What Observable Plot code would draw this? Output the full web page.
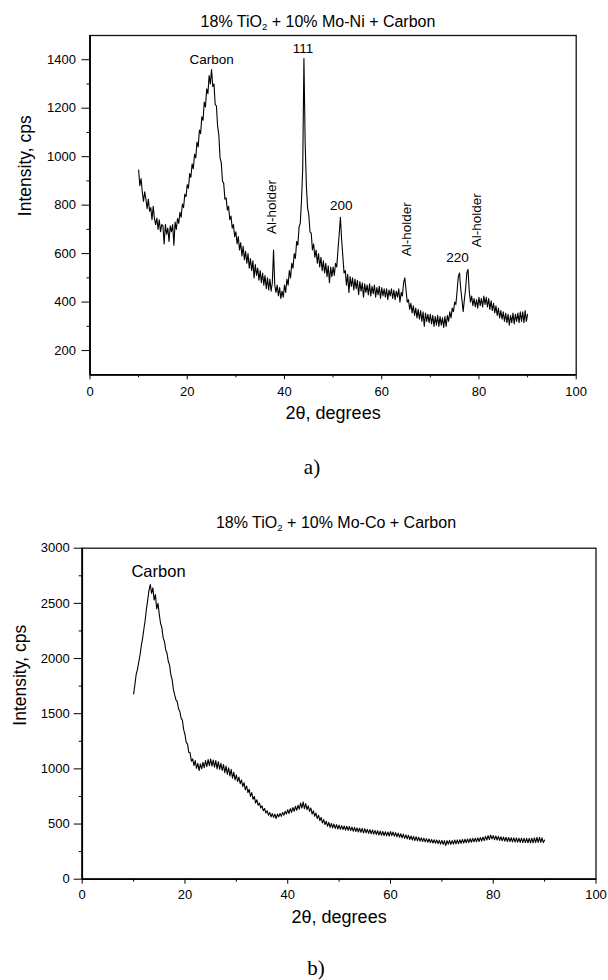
<!DOCTYPE html>
<html><head><meta charset="utf-8">
<script src="https://cdn.jsdelivr.net/npm/d3@7"></script>
<script src="https://cdn.jsdelivr.net/npm/@observablehq/plot@0.6"></script>
<style>
body{margin:0;background:#fff;}
#wrap{position:relative;width:608px;height:980px;overflow:hidden;font-family:"Liberation Sans",Arial,sans-serif;color:#000;background:#fff;}
.panel{position:absolute;left:0;}
.lbl{position:absolute;transform:translate(-50%,-50%);white-space:nowrap;line-height:1;}
.title{font-size:16px;}
.title sub{font-size:0.6em;vertical-align:-0.3em;line-height:0;}
.cap{font-family:"Liberation Serif","Times New Roman",serif;font-size:21px;}
</style></head>
<body><div id="wrap">
<div class="panel" id="pa" style="top:0px"></div>
<div class="panel" id="pb" style="top:500px"></div>
<div class="lbl title" style="left:318px;top:21.7px">18% TiO<sub>2</sub> + 10% Mo-Ni + Carbon</div>
<div class="lbl cap" style="left:312px;top:467px">a)</div>
<div class="lbl title" style="left:336px;top:523.3px">18% TiO<sub>2</sub> + 10% Mo-Co + Carbon</div>
<div class="lbl cap" style="left:316px;top:968px">b)</div>
</div>
<script>
// ---- data: panel a (Mo-Ni), [2θ degrees, intensity cps]
const scanA = [
[10.0,945],[10.25,880],[10.5,910],[10.75,855],[11.0,815],[11.25,855],[11.5,825],[11.75,785],[12.0,825],[12.25,775],
[12.5,790],[12.75,740],[13.0,795],[13.25,745],[13.5,720],[13.75,747],[14.0,700],[14.25,740],[14.5,690],[14.75,720],
[15.0,715],[15.25,640],[15.5,720],[15.75,680],[16.0,705],[16.25,650],[16.5,715],[16.75,690],[17.0,720],[17.25,635],
[17.5,730],[17.75,700],[18.0,745],[18.25,725],[18.5,770],[18.75,750],[19.0,805],[19.25,790],[19.5,845],[19.75,835],
[20.0,885],[20.25,870],[20.5,930],[20.75,915],[21.0,970],[21.25,950],[21.5,1010],[21.75,995],[22.0,1060],[22.25,1040],
[22.5,1110],[22.75,1095],[23.0,1165],[23.25,1150],[23.5,1225],[23.75,1205],[24.0,1280],[24.25,1260],[24.5,1335],[24.75,1300],
[25.0,1360],[25.25,1290],[25.5,1300],[25.75,1215],[26.0,1210],[26.25,1125],[26.5,1090],[26.75,995],[27.0,975],[27.25,900],
[27.5,890],[27.75,825],[28.0,830],[28.25,780],[28.5,795],[28.75,740],[29.0,755],[29.25,705],[29.5,720],[29.75,670],
[30.0,690],[30.25,640],[30.5,670],[30.75,615],[31.0,645],[31.25,590],[31.5,630],[31.75,575],[32.0,610],[32.25,560],
[32.5,600],[32.75,540],[33.0,580],[33.25,530],[33.5,570],[33.75,500],[34.0,555],[34.25,510],[34.5,540],[34.75,490],
[35.0,530],[35.25,480],[35.5,520],[35.75,470],[36.0,510],[36.25,455],[36.5,500],[36.75,450],[37.0,495],[37.25,445],
[37.5,480],[37.75,615],[38.0,470],[38.25,440],[38.5,470],[38.75,425],[39.0,460],[39.25,415],[39.5,445],[39.75,420],
[40.0,470],[40.25,440],[40.5,495],[40.75,470],[41.0,530],[41.25,500],[41.5,560],[41.75,540],[42.0,600],[42.25,580],
[42.5,650],[42.75,635],[43.0,710],[43.25,725],[43.5,820],[43.75,950],[44.0,1405],[44.25,1060],[44.5,880],[44.75,790],
[45.0,760],[45.25,690],[45.5,685],[45.75,615],[46.0,640],[46.25,585],[46.5,615],[46.75,560],[47.0,600],[47.25,545],
[47.5,585],[47.75,530],[48.0,570],[48.25,520],[48.5,560],[48.75,505],[49.0,550],[49.25,480],[49.5,545],[49.75,505],
[50.0,545],[50.25,510],[50.5,560],[50.75,545],[51.0,615],[51.25,680],[51.5,750],[51.75,660],[52.0,590],[52.25,520],
[52.5,530],[52.75,470],[53.0,515],[53.25,440],[53.5,505],[53.75,465],[54.0,500],[54.25,450],[54.5,495],[54.75,455],
[55.0,490],[55.25,430],[55.5,485],[55.75,445],[56.0,480],[56.25,420],[56.5,475],[56.75,440],[57.0,470],[57.25,430],
[57.5,475],[57.75,425],[58.0,465],[58.25,435],[58.5,470],[58.75,420],[59.0,460],[59.25,430],[59.5,465],[59.75,415],
[60.0,460],[60.25,425],[60.5,455],[60.75,420],[61.0,455],[61.25,410],[61.5,450],[61.75,425],[62.0,455],[62.25,415],
[62.5,450],[62.75,410],[63.0,445],[63.25,420],[63.5,455],[63.75,400],[64.0,440],[64.25,425],[64.5,480],[64.75,500],
[65.0,450],[65.25,400],[65.5,410],[65.75,370],[66.0,395],[66.25,355],[66.5,385],[66.75,345],[67.0,375],[67.25,335],
[67.5,370],[67.75,330],[68.0,365],[68.25,320],[68.5,360],[68.75,300],[69.0,355],[69.25,320],[69.5,350],[69.75,315],
[70.0,350],[70.25,310],[70.5,345],[70.75,300],[71.0,340],[71.25,305],[71.5,345],[71.75,300],[72.0,340],[72.25,305],
[72.5,335],[72.75,295],[73.0,340],[73.25,300],[73.5,345],[73.75,320],[74.0,360],[74.25,335],[74.5,375],[74.75,360],
[75.0,400],[75.25,390],[75.5,445],[75.75,505],[76.0,520],[76.25,455],[76.5,410],[76.75,360],[77.0,410],[77.25,455],
[77.5,520],[77.75,535],[78.0,445],[78.25,400],[78.5,425],[78.75,385],[79.0,415],[79.25,380],[79.5,410],[79.75,375],
[80.0,420],[80.25,385],[80.5,415],[80.75,380],[81.0,425],[81.25,390],[81.5,420],[81.75,380],[82.0,415],[82.25,370],
[82.5,405],[82.75,365],[83.0,395],[83.25,355],[83.5,385],[83.75,345],[84.0,375],[84.25,335],[84.5,365],[84.75,330],
[85.0,360],[85.25,320],[85.5,355],[85.75,315],[86.0,350],[86.25,305],[86.5,345],[86.75,315],[87.0,355],[87.25,310],
[87.5,350],[87.75,320],[88.0,355],[88.25,315],[88.5,360],[88.75,320],[89.0,360],[89.25,315],[89.5,365],[89.75,320],
[90.0,350]
];
// ---- data: panel b (Mo-Co), [2θ degrees, intensity cps]
const scanB = [
[10.0,1680],[10.25,1760],[10.5,1855],[10.75,1900],[11.0,1965],[11.25,2030],[11.5,2115],[11.75,2180],[12.0,2265],[12.25,2345],
[12.5,2450],[12.75,2530],[13.0,2620],[13.25,2670],[13.5,2590],[13.75,2640],[14.0,2530],[14.25,2580],[14.5,2450],[14.75,2500],
[15.0,2400],[15.25,2320],[15.5,2280],[15.75,2190],[16.0,2155],[16.25,2080],[16.5,2050],[16.75,1975],[17.0,1940],[17.25,1855],
[17.5,1810],[17.75,1720],[18.0,1670],[18.25,1625],[18.5,1610],[18.75,1545],[19.0,1520],[19.25,1460],[19.5,1440],[19.75,1355],
[20.0,1310],[20.25,1240],[20.5,1225],[20.75,1150],[21.0,1145],[21.25,1070],[21.5,1090],[21.75,1030],[22.0,1075],[22.25,1005],
[22.5,1050],[22.75,985],[23.0,1045],[23.25,1000],[23.5,1060],[23.75,1010],[24.0,1075],[24.25,1020],[24.5,1085],[24.75,1030],
[25.0,1090],[25.25,1025],[25.5,1080],[25.75,1015],[26.0,1075],[26.25,1000],[26.5,1065],[26.75,995],[27.0,1050],[27.25,985],
[27.5,1040],[27.75,965],[28.0,1025],[28.25,950],[28.5,1010],[28.75,935],[29.0,995],[29.25,915],[29.5,970],[29.75,900],
[30.0,945],[30.25,885],[30.5,925],[30.75,865],[31.0,900],[31.25,840],[31.5,875],[31.75,810],[32.0,845],[32.25,785],
[32.5,815],[32.75,750],[33.0,785],[33.25,725],[33.5,750],[33.75,690],[34.0,720],[34.25,670],[34.5,690],[34.75,645],
[35.0,665],[35.25,620],[35.5,640],[35.75,600],[36.0,620],[36.25,580],[36.5,605],[36.75,565],[37.0,595],[37.25,560],
[37.5,590],[37.75,550],[38.0,590],[38.25,565],[38.5,595],[38.75,570],[39.0,605],[39.25,580],[39.5,615],[39.75,590],
[40.0,630],[40.25,595],[40.5,640],[40.75,605],[41.0,650],[41.25,615],[41.5,660],[41.75,625],[42.0,670],[42.25,635],
[42.5,690],[42.75,645],[43.0,700],[43.25,640],[43.5,685],[43.75,630],[44.0,665],[44.25,615],[44.5,645],[44.75,590],
[45.0,620],[45.25,570],[45.5,600],[45.75,550],[46.0,580],[46.25,530],[46.5,560],[46.75,510],[47.0,540],[47.25,495],
[47.5,525],[47.75,480],[48.0,515],[48.25,470],[48.5,505],[48.75,465],[49.0,500],[49.25,460],[49.5,495],[49.75,455],
[50.0,490],[50.25,452],[50.5,485],[50.75,450],[51.0,482],[51.25,445],[51.5,480],[51.75,442],[52.0,478],[52.25,440],
[52.5,472],[52.75,435],[53.0,470],[53.25,432],[53.5,465],[53.75,428],[54.0,462],[54.25,425],[54.5,460],[54.75,420],
[55.0,458],[55.25,420],[55.5,452],[55.75,415],[56.0,450],[56.25,412],[56.5,446],[56.75,408],[57.0,442],[57.25,405],
[57.5,440],[57.75,400],[58.0,436],[58.25,398],[58.5,432],[58.75,395],[59.0,430],[59.25,392],[59.5,428],[59.75,390],
[60.0,432],[60.25,395],[60.5,428],[60.75,390],[61.0,422],[61.25,385],[61.5,418],[61.75,380],[62.0,412],[62.25,375],
[62.5,408],[62.75,370],[63.0,402],[63.25,365],[63.5,398],[63.75,360],[64.0,392],[64.25,355],[64.5,388],[64.75,350],
[65.0,385],[65.25,348],[65.5,380],[65.75,345],[66.0,375],[66.25,342],[66.5,372],[66.75,338],[67.0,368],[67.25,335],
[67.5,365],[67.75,332],[68.0,360],[68.25,328],[68.5,358],[68.75,325],[69.0,355],[69.25,322],[69.5,352],[69.75,318],
[70.0,352],[70.25,315],[70.5,350],[70.75,305],[71.0,350],[71.25,318],[71.5,352],[71.75,315],[72.0,350],[72.25,318],
[72.5,355],[72.75,320],[73.0,356],[73.25,322],[73.5,358],[73.75,325],[74.0,360],[74.25,328],[74.5,362],[74.75,330],
[75.0,365],[75.25,332],[75.5,368],[75.75,335],[76.0,370],[76.25,338],[76.5,372],[76.75,340],[77.0,375],[77.25,342],
[77.5,378],[77.75,345],[78.0,382],[78.25,350],[78.5,388],[78.75,355],[79.0,395],[79.25,360],[79.5,400],[79.75,365],
[80.0,395],[80.25,358],[80.5,392],[80.75,355],[81.0,388],[81.25,352],[81.5,385],[81.75,348],[82.0,382],[82.25,345],
[82.5,380],[82.75,342],[83.0,378],[83.25,340],[83.5,376],[83.75,338],[84.0,375],[84.25,336],[84.5,374],[84.75,335],
[85.0,372],[85.25,334],[85.5,372],[85.75,332],[86.0,370],[86.25,332],[86.5,370],[86.75,330],[87.0,370],[87.25,330],
[87.5,372],[87.75,330],[88.0,375],[88.25,332],[88.5,378],[88.75,333],[89.0,380],[89.25,335],[89.5,375],[89.75,332],
[90.0,355]
];
// ---- ticks and domains
const angleTicks = [0, 20, 40, 60, 80, 100];
const angleMinor = [10, 30, 50, 70, 90];
const cpsTicksA = [200, 400, 600, 800, 1000, 1200, 1400];
const cpsMinorA = [300, 500, 700, 900, 1100, 1300];
const cpsTicksB = [0, 500, 1000, 1500, 2000, 2500, 3000];
const cpsMinorB = [250, 750, 1250, 1750, 2250, 2750];
const domainA = [100, 1500];
const domainB = [0, 3000];
const angleDomain = [0, 100];
// ---- annotations (data coordinates)
const peakLabelsA = [
  {text: "Carbon", angle: 25.0, cps: 1400},
  {text: "111", angle: 43.8, cps: 1444},
  {text: "200", angle: 51.7, cps: 796},
  {text: "220", angle: 75.6, cps: 582}
];
const holderLabelsA = [
  {text: "Al-holder", angle: 37.3, cps: 792},
  {text: "Al-holder", angle: 65.1, cps: 701},
  {text: "Al-holder", angle: 79.5, cps: 738}
];
const peakLabelsB = [{text: "Carbon", angle: 14.85, cps: 2789}];
const xLabel = "2θ, degrees";
const yLabel = "Intensity, cps";

const font = '"Liberation Sans", Arial, sans-serif';

function panel(cfg) {
  const data = cfg.scan.map(([angle, cps]) => ({angle, cps}));
  return Plot.plot({
    width: 608, height: 480,
    marginTop: cfg.mt, marginBottom: cfg.mb, marginLeft: cfg.ml, marginRight: cfg.mr,
    style: {fontFamily: font, color: "#000"},
    x: {domain: angleDomain},
    y: {domain: cfg.yDomain},
    marks: [
      Plot.frame({stroke: "#111", strokeWidth: 1.3}),
      Plot.ruleX(angleDomain.slice(0, 1), {stroke: "#000", strokeWidth: 1.8}),
      Plot.ruleY(cfg.yDomain.slice(0, 1), {stroke: "#000", strokeWidth: 1.8}),
      Plot.axisX({ticks: angleTicks, tickSize: 5, tickPadding: cfg.xPad, tickFormat: "d", fontSize: 13, label: null}),
      Plot.axisX({ticks: angleMinor, tickSize: 3, tickFormat: () => "", label: null}),
      Plot.axisY({ticks: cfg.yTicks, tickSize: 8, tickPadding: cfg.yPad, tickFormat: "d", fontSize: 13, label: null}),
      Plot.axisY({ticks: cfg.yMinor, tickSize: 3, tickFormat: () => "", label: null}),
      Plot.line(data, {x: "angle", y: "cps", stroke: "#000", strokeWidth: 1.1}),
      Plot.text(cfg.peaks, {x: "angle", y: "cps", text: "text", fontSize: cfg.peakSize, fill: "#000"}),
      Plot.text(cfg.holders, {x: "angle", y: "cps", text: "text", rotate: -90, fontSize: 13.5, fill: "#000"}),
      Plot.text([xLabel], {text: d => d, frameAnchor: "bottom", dy: cfg.xLabDy, fontSize: 18, fill: "#000"}),
      Plot.text([yLabel], {text: d => d, frameAnchor: "left", dx: cfg.yLabDx, dy: cfg.yLabDy, rotate: -90, fontSize: 17.5, fill: "#000"})
    ]
  });
}

document.getElementById("pa").appendChild(panel({
  scan: scanA, yDomain: domainA, yTicks: cpsTicksA, yMinor: cpsMinorA,
  mt: 35, mb: 105.7, ml: 89.5, mr: 32.3, xPad: 7, yPad: 6,
  peaks: peakLabelsA, holders: holderLabelsA, peakSize: 13.5,
  xLabDy: 43.7, yLabDx: -64.5, yLabDy: 11
}));
document.getElementById("pb").appendChild(panel({
  scan: scanB, yDomain: domainB, yTicks: cpsTicksB, yMinor: cpsMinorB,
  mt: 47.7, mb: 101.3, ml: 81.7, mr: 12.5, xPad: 5.5, yPad: 4.5,
  peaks: peakLabelsB, holders: [], peakSize: 16.5,
  xLabDy: 44, yLabDx: -62.3, yLabDy: 12
}));
</script>
</body></html>
